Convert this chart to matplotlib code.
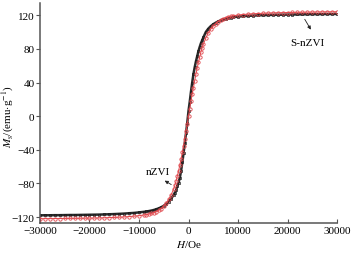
import numpy as np
import matplotlib
matplotlib.use('Agg')
import matplotlib.pyplot as plt

plt.rcParams['font.family'] = 'Liberation Serif'
plt.rcParams['mathtext.fontset'] = 'stix'

# applied field (Oe)
field = [-30000, -29000, -28000, -27000, -26000, -25000, -24000, -23000,
         -22000, -21000, -20000, -19000, -18000, -17000, -16000, -15000,
         -14000, -13000, -12000, -11000, -10000, -9000,
         -8500, -8000, -7500, -7000, -6500, -6000, -5500, -5000, -4500,
         -4000, -3500, -3000,
         -2750, -2500, -2250, -2000, -1750, -1500, -1250, -1000, -750,
         -500, -250, 0, 250, 500, 750, 1000, 1250, 1500, 1750, 2000, 2250,
         2500, 2750,
         3000, 3500, 4000, 4500, 5000, 5500, 6000, 6500, 7000, 7500, 8000,
         8500,
         9000, 10000, 11000, 12000, 13000, 14000, 15000, 16000, 17000,
         18000, 19000, 20000, 21000, 22000, 23000, 24000, 25000, 26000,
         27000, 28000, 29000, 30000]

# magnetisation (emu/g), black squares
m_black = [-117.9, -117.8, -117.8, -117.7, -117.7, -117.6, -117.5, -117.5,
           -117.4, -117.3, -117.2, -117.1, -117.0, -116.8, -116.6, -116.4,
           -116.1, -115.8, -115.4, -115.0, -114.4, -113.7,
           -113.3, -112.8, -112.2, -111.5, -110.6, -109.5, -108.2, -106.5,
           -104.3, -101.5, -98.0, -93.6,
           -90.8, -87.5, -83.0, -79.0, -73.0, -65.0, -55.0, -44.0, -32.0,
           -20.0, -8.0, 6.0, 17.0, 29.0, 40.0, 50.0, 58.0, 65.0, 71.0, 77.0,
           82.0, 86.5, 90.0,
           93.5, 100.0, 104.0, 107.0, 109.3, 111.1, 112.6, 113.9, 115.0,
           115.8, 116.5, 117.1,
           117.6, 118.3, 118.8, 119.2, 119.5, 119.8, 120.0, 120.2, 120.4,
           120.5, 120.6, 120.7, 120.8, 120.9, 121.0, 121.1, 121.2, 121.2,
           121.3, 121.4, 121.4, 121.5]

# magnetisation (emu/g), red circles
m_red = [-121.9, -121.8, -121.8, -121.7, -121.7, -121.6, -121.5, -121.5,
         -121.4, -121.3, -121.2, -121.1, -121.0, -120.8, -120.6, -120.4,
         -120.1, -119.8, -119.4, -118.9, -118.3, -117.5,
         -117.0, -116.4, -115.6, -114.6, -113.4, -111.8, -109.8, -107.0,
         -103.5, -99.0, -93.5, -86.5,
         -82.0, -77.0, -71.0, -65.0, -58.0, -51.0, -43.0, -35.0, -27.0,
         -18.0, -9.0, 0.0, 9.0, 18.0, 26.0, 34.0, 42.0, 50.0, 57.0, 64.0,
         70.0, 76.0, 81.0,
         85.5, 93.0, 99.0, 103.5, 107.0, 110.0, 112.3, 114.2, 115.7, 116.9,
         117.9, 118.7,
         119.3, 120.2, 120.8, 121.3, 121.7, 122.0, 122.3, 122.5, 122.7,
         122.9, 123.0, 123.2, 123.3, 123.4, 123.5, 123.6, 123.7, 123.8,
         123.9, 124.0, 124.0, 124.1]

x_ticks = [-30000, -20000, -10000, 0, 10000, 20000, 30000]
y_ticks = [-120, -80, -40, 0, 40, 80, 120]


def _fmt(v):
    """Tick label with a real minus sign."""
    return '\u2212%d' % -v if v < 0 else '%d' % v


fig = plt.figure(figsize=(3.52, 2.55), dpi=100)
ax = fig.add_axes([40 / 352, 31 / 255, 297 / 352, 220 / 255])

ax.plot(field, m_black, color='#2b2b2b', lw=1.8, marker='s', ms=1.6,
        mfc='none', mec='#1a1a1a', mew=0.5, zorder=2)
ax.plot(field, m_red, color='#e0474c', lw=0.7, marker='o', ms=2.4,
        mfc='none', mec='#e0474c', mew=0.6, zorder=3)

ax.set_xlim(-30000, 30000)
ax.set_ylim(-127, 134.5)
ax.set_xticks(x_ticks)
ax.set_yticks(y_ticks)
ax.set_xticklabels([_fmt(v) for v in x_ticks])
ax.set_yticklabels([_fmt(v) for v in y_ticks])

for side in ['top', 'right']:
    ax.spines[side].set_visible(False)
for side in ['left', 'bottom']:
    ax.spines[side].set_color('#555555')
    ax.spines[side].set_linewidth(1.1)
ax.tick_params(axis='y', direction='out', length=3, width=0.8,
               color='#555555', labelsize=8, pad=1)
ax.tick_params(axis='x', direction='in', length=3, width=0.8,
               color='#555555', labelsize=8, pad=2)

ax.set_xlabel(r'$H$/Oe', fontsize=8, labelpad=2)
ax.set_ylabel(r'$M_\mathrm{s}$/(emu$\cdot$g$^{-1}$)', fontsize=8)
ax.yaxis.set_label_coords(-0.082, 0.49)

# labels with arrows
ax.annotate('', xy=(25000, 100), xytext=(23200, 118),
            arrowprops=dict(arrowstyle='-|>', color='#222222', lw=0.6,
                            mutation_scale=5))
ax.text(24000, 88, 'S-nZVI', fontsize=8, ha='center', va='center')
ax.annotate('', xy=(-5300, -75), xytext=(-3000, -83),
            arrowprops=dict(arrowstyle='-|>', color='#222222', lw=0.6,
                            mutation_scale=5))
ax.text(-6300, -66, 'nZVI', fontsize=8, ha='center', va='center')

fig.savefig('out.png', dpi=100)
